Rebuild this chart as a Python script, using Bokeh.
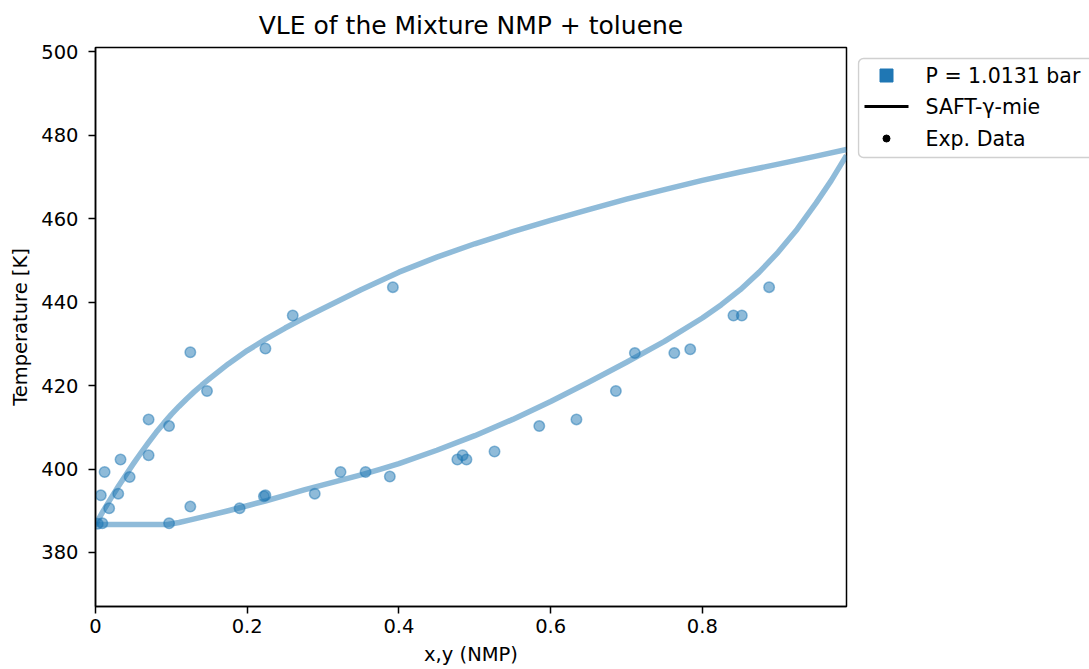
from bokeh.plotting import figure
from bokeh.models import Range1d, FixedTicker
from bokeh.layouts import row
from bokeh.embed import file_html
from bokeh.resources import INLINE
from bokeh.core.properties import value

# ---------------- data ----------------
title_text = "VLE of the Mixture NMP + toluene"
x_label = "x,y (NMP)"
y_label = "Temperature [K]"
legend_labels = ["P = 1.0131 bar", "SAFT-\u03b3-mie", "Exp. Data"]

x_ticks = [0.0, 0.2, 0.4, 0.6, 0.8]
y_ticks = [380, 400, 420, 440, 460, 480, 500]

# SAFT-gamma-mie bubble curve (liquid, x)
bubble_x = [0.0, 0.095, 0.11, 0.125, 0.15, 0.175, 0.20, 0.225, 0.25, 0.275,
            0.30, 0.325, 0.35, 0.375, 0.40, 0.45, 0.50, 0.55, 0.60, 0.65,
            0.70, 0.75, 0.80, 0.825, 0.85, 0.875, 0.90, 0.925, 0.95, 0.97,
            0.99]
bubble_T = [386.7, 386.7, 387.2, 387.8, 388.9, 390.0, 391.2, 392.4, 393.7,
            395.0, 396.2, 397.4, 398.6, 399.9, 401.3, 404.5, 408.0, 411.9,
            416.2, 420.8, 425.6, 430.6, 436.2, 439.4, 443.0, 447.2, 452.0,
            457.5, 463.8, 469.2, 475.2]

# SAFT-gamma-mie dew curve (vapour, y)
dew_y = [0.0, 0.005, 0.01, 0.02, 0.03, 0.04, 0.05, 0.06, 0.07, 0.08, 0.09,
         0.10, 0.11, 0.12, 0.13, 0.14, 0.15, 0.175, 0.20, 0.225, 0.25, 0.275,
         0.30, 0.35, 0.40, 0.45, 0.50, 0.55, 0.60, 0.65, 0.70, 0.75, 0.80,
         0.85, 0.90, 0.95, 0.99]
dew_T = [386.7, 388.3, 389.9, 392.9, 395.8, 398.6, 401.3, 403.9, 406.4,
         408.8, 411.0, 413.1, 415.0, 416.8, 418.5, 420.1, 421.6, 425.2,
         428.4, 431.2, 433.8, 436.2, 438.5, 443.0, 447.2, 450.8, 454.0,
         456.9, 459.6, 462.2, 464.7, 467.0, 469.2, 471.2, 473.1, 475.0,
         476.6]

# experimental data (liquid x and vapour y)
exp_x = [0.097, 0.125, 0.190, 0.222, 0.224, 0.289, 0.323, 0.356, 0.388,
         0.477, 0.484, 0.489, 0.526, 0.585, 0.634, 0.686, 0.711, 0.763,
         0.784, 0.841, 0.852, 0.888]
exp_x_T = [387.0, 391.0, 390.6, 393.5, 393.7, 394.1, 399.3, 399.3, 398.2,
           402.3, 403.3, 402.3, 404.2, 410.3, 411.9, 418.7, 427.8, 427.8,
           428.7, 436.8, 436.8, 443.6]
exp_y = [0.003, 0.009, 0.007, 0.012, 0.018, 0.030, 0.033, 0.045, 0.070,
         0.070, 0.097, 0.125, 0.147, 0.224, 0.260, 0.392]
exp_y_T = [386.9, 387.0, 393.7, 399.3, 390.6, 394.1, 402.3, 398.1, 403.3,
           411.9, 410.3, 428.0, 418.7, 428.9, 436.8, 443.6]

x_range = (0.0, 0.99)
y_range = (367.05, 501.05)

# ---------------- style ----------------
FONT = "DejaVu Sans"
C0 = "#1f77b4"
TICK_FS = "19.5px"
BL, BR, BT, BB = 95, 11, 47, 63
W, H = 857, 669

p = figure(width=W, height=H, output_backend="svg", toolbar_location=None,
           x_range=Range1d(*x_range), y_range=Range1d(*y_range),
           min_border_left=BL, min_border_right=BR, min_border_top=BT,
           min_border_bottom=BB, title=title_text)
p.title.align = "center"
p.title.text_font = FONT
p.title.text_font_size = "25px"
p.title.text_font_style = "normal"
p.title.text_color = "black"
p.title.standoff = 15
p.grid.visible = False
p.outline_line_color = "black"
p.outline_line_width = 1.5
p.background_fill_color = "white"
p.border_fill_color = "white"

for ax in (p.xaxis[0], p.yaxis[0]):
    ax.axis_line_width = 1.5
    ax.major_tick_line_width = 1.5
    ax.major_tick_out = 7
    ax.major_tick_in = 0
    ax.minor_tick_out = 0
    ax.minor_tick_in = 0
    ax.major_label_text_font = FONT
    ax.major_label_text_font_size = TICK_FS
    ax.major_label_text_color = "black"
    ax.axis_label_text_font = FONT
    ax.axis_label_text_font_size = TICK_FS
    ax.axis_label_text_font_style = "normal"
    ax.axis_label_text_color = "black"

p.xaxis[0].ticker = FixedTicker(ticks=x_ticks)
p.yaxis[0].ticker = FixedTicker(ticks=y_ticks)
p.xaxis[0].axis_label = x_label
p.yaxis[0].axis_label = y_label
p.xaxis[0].major_label_standoff = 5
p.yaxis[0].major_label_standoff = 10
p.xaxis[0].axis_label_standoff = 7
p.yaxis[0].axis_label_standoff = 6

p.line(bubble_x, bubble_T, line_color=C0, line_alpha=0.5, line_width=5.5,
       line_join="round", line_cap="butt")
p.line(dew_y, dew_T, line_color=C0, line_alpha=0.5, line_width=5.5,
       line_join="round", line_cap="butt")
p.scatter(exp_x, exp_x_T, size=10.5, fill_color=C0, fill_alpha=0.5,
          line_color=C0, line_alpha=0.5, line_width=1.5)
p.scatter(exp_y, exp_y_T, size=10.5, fill_color=C0, fill_alpha=0.5,
          line_color=C0, line_alpha=0.5, line_width=1.5)

# ---------------- legend panel (screen-pixel coordinates) ----------------
LW = 1089 - W
leg = figure(width=LW, height=H, output_backend="svg", toolbar_location=None,
             x_range=Range1d(0, LW), y_range=Range1d(H - BB, BT),
             x_axis_location=None, y_axis_location=None,
             min_border_left=0, min_border_right=0,
             min_border_top=BT, min_border_bottom=BB)
leg.grid.visible = False
leg.outline_line_color = None
leg.background_fill_color = "white"
leg.border_fill_color = "white"

leg.quad(left=1, right=300, top=58, bottom=157, fill_color="white",
         line_color="#d0d0d0", line_width=1.5, border_radius=5)
row_y = [75, 106, 138]
leg.scatter([29], [row_y[0]], marker="square", size=13, fill_color=C0,
            line_color=C0)
leg.line([7, 51], [row_y[1], row_y[1]], line_color="black", line_width=2.8)
leg.scatter([29], [row_y[2]], marker="circle", size=7, fill_color="black",
            line_color="black")
leg.text(x=[68, 68, 68], y=row_y, text=legend_labels,
         text_font=value(FONT), text_font_size="20.5px",
         text_baseline="middle", text_align="left", text_color="black")

layout = row(p, leg, spacing=0)
open("out.html", "w").write(file_html(layout, INLINE))
